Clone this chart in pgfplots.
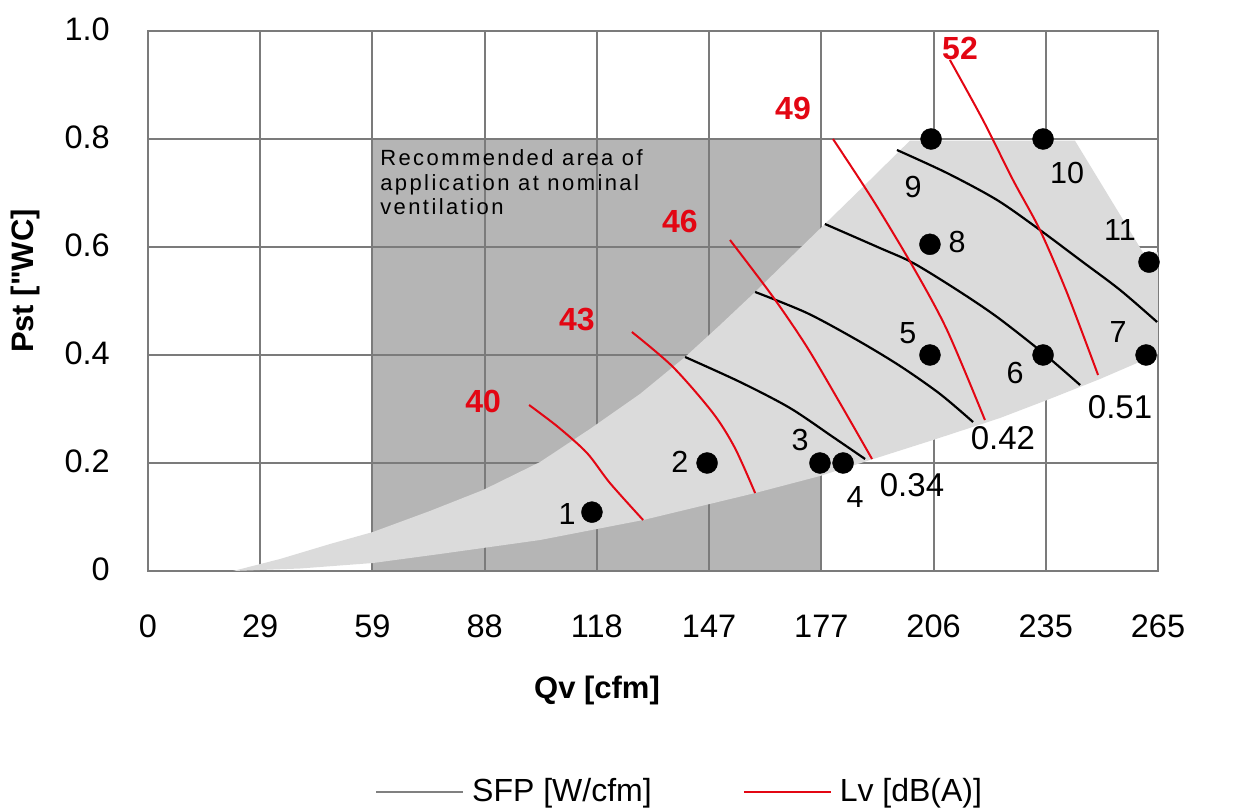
\documentclass[border=0pt]{standalone}
\usepackage{fontspec}
\setmainfont{Liberation Sans}
\newfontfamily\recfont{Liberation Sans}[LetterSpace=11]
\newfontfamily\labfont{Liberation Sans}
\usepackage{pgfplots}
\pgfplotsset{compat=1.18}
\definecolor{gridgray}{RGB}{123,123,123}
\definecolor{darkrect}{RGB}{181,181,181}
\definecolor{lightreg}{RGB}{219,219,219}
\definecolor{redline}{RGB}{227,6,19}
\definecolor{leggray}{RGB}{128,128,128}
\begin{document}
\begin{tikzpicture}
\begin{axis}[
  set layers,
  at={(0,0)}, anchor=south west,
  scale only axis, width=1010bp, height=540bp,
  xmin=0, xmax=450, ymin=0, ymax=1,
  xtick={0,50,100,150,200,250,300,350,400,450},
  xticklabels={0,29,59,88,118,147,177,206,235,265},
  ytick={0,0.2,0.4,0.6,0.8,1},
  yticklabels={0\hspace{7bp},0.2\hspace{-8bp},0.4,0.6,0.8,1.0},
  /pgf/number format/assume math mode=true,
  grid=major,
  major grid style={draw=gridgray, line width=2bp},
  axis line style={draw=gridgray, line width=2bp},
  major tick length=0pt,
  tick label style={font=\fontsize{32.5bp}{38bp}\selectfont, inner sep=0pt},
  xticklabel style={anchor=north, yshift=-44bp},
  yticklabel style={anchor=east, xshift=-38bp, yshift=2bp},
  xlabel={Qv [cfm]}, ylabel={Pst ["WC]},
  label style={font=\labfont\bfseries\fontsize{31bp}{36bp}\selectfont},
  xlabel style={at={(axis description cs:0.4446,-0.2204)}, anchor=center},
  ylabel style={at={(axis description cs:-0.1218,0.537)}, anchor=center},
  legend columns=2,
  legend style={draw=none, fill=none, at={(0.2248,-0.383)}, anchor=north west,
    font=\fontsize{32bp}{38bp}\selectfont, inner sep=0pt,
    nodes={inner sep=0pt},
    /tikz/every odd column/.append style={column sep=8bp},
    /tikz/every even column/.append style={column sep=91bp}},
  legend image code/.code={\draw[#1] (0bp,-2bp) -- (87bp,-2bp);},
]
\addlegendimage{draw=leggray, line width=2bp}
\addlegendentry{SFP [W/cfm]}
\addlegendimage{draw=redline, line width=2bp}
\addlegendentry{Lv [dB(A)]}

% recommended area
\addplot[on layer=axis background, fill=darkrect, draw=none, forget plot]
  coordinates {(100,0) (300,0) (300,0.8) (100,0.8)} --cycle;

% working region
\addplot[fill=lightreg, draw=none, forget plot] coordinates {
(37.9,0) (58.8,0.0222) (81.1,0.050) (100.2,0.0722) (125.6,0.1111) (149.3,0.150)
(174.7,0.2019) (196.9,0.2630) (219.2,0.3278) (239.3,0.3963) (254.9,0.4556)
(270.5,0.5167) (286.0,0.5796) (301.6,0.6426) (321.7,0.7241) (339.5,0.797)
(413.0,0.797) (443.3,0.59) (452,0.59) (452,0.405)
(450.0,0.4019) (424.2,0.3556) (400.6,0.3167) (379.6,0.2833) (349.8,0.2426)
(320.4,0.2037) (299.4,0.1759) (270.5,0.1444) (220.6,0.0944) (174.7,0.0574)
(130.1,0.0315) (100.2,0.0148) (67.7,0.0046)
} --cycle;

\node[anchor=north west, align=left, inner sep=0pt,
  font=\recfont\fontsize{22bp}{24.5bp}\selectfont]
  at (axis cs:103.4,0.78) {Recommended area of\\application at nominal\\ventilation};

% SFP curves
\addplot[black, line width=2.2bp, smooth, forget plot] coordinates {
(239.3,0.3963) (263.8,0.35) (286.0,0.3019) (305.2,0.2481) (319.5,0.2074)};
\addplot[black, line width=2.2bp, smooth, forget plot] coordinates {
(270.5,0.5167) (293.6,0.4778) (315.9,0.4278) (335.1,0.3796) (352.9,0.3278) (367.6,0.2759)};
\addplot[black, line width=2.2bp, smooth, forget plot] coordinates {
(301.6,0.6426) (326.1,0.5981) (340.9,0.5704) (360.5,0.5204) (378.3,0.4704) (398.8,0.4037) (415.3,0.3444)};
\addplot[black, line width=2.2bp, smooth, forget plot] coordinates {
(333.7,0.7796) (356.0,0.7370) (378.3,0.6870) (397.4,0.6315) (415.3,0.5759) (433.1,0.5204) (449.6,0.4611)};

% Lv curves
\addplot[redline, line width=2bp, smooth, forget plot] coordinates {
(169.8,0.3074) (182.7,0.2667) (195.6,0.2185) (205.8,0.1630) (220.6,0.0944)};
\addplot[redline, line width=2bp, smooth, forget plot] coordinates {
(215.6,0.4426) (233.9,0.3778) (251.7,0.2926) (261.5,0.2278) (270.5,0.1444)};
\addplot[redline, line width=2bp, smooth, forget plot] coordinates {
(259.3,0.6130) (278.5,0.5074) (293.6,0.4148) (308.3,0.3111) (322.6,0.2074)};
\addplot[redline, line width=2bp, smooth, forget plot] coordinates {
(305.2,0.8) (323.0,0.6870) (340.9,0.5630) (356.0,0.4463) (372.9,0.2796)};
\addplot[redline, line width=2bp, smooth, forget plot] coordinates {
(357.3,0.9463) (372.0,0.8352) (385.4,0.7241) (397.4,0.6315) (409.5,0.5148) (423.3,0.3630)};

% operating points
\addplot[only marks, mark=*, mark size=10.5bp, black, forget plot] coordinates {
(197.8,0.109) (249.1,0.2) (299.4,0.2) (309.7,0.2) (348.4,0.4) (398.8,0.4)
(444.7,0.4) (348.4,0.605) (348.9,0.8) (398.8,0.8) (446.0,0.572)};

% point labels
\begin{scope}[every node/.style={font=\fontsize{30.5bp}{36bp}\selectfont, inner sep=0pt}]
\node at (axis cs:186.7,0.1056) {1};
\node at (axis cs:237.0,0.2019) {2};
\node at (axis cs:290.5,0.2426) {3};
\node at (axis cs:315.0,0.1370) {4};
\node at (axis cs:338.6,0.4407) {5};
\node at (axis cs:386.3,0.3667) {6};
\node at (axis cs:432.2,0.4426) {7};
\node at (axis cs:360.5,0.6093) {8};
\node at (axis cs:340.9,0.7111) {9};
\node at (axis cs:409.5,0.7370) {10};
\node at (axis cs:433.1,0.6315) {11};
\end{scope}
\begin{scope}[every node/.style={font=\fontsize{33bp}{38bp}\selectfont, inner sep=0pt}]
\node at (axis cs:340.4,0.1593) {0.34};
\node at (axis cs:380.9,0.2463) {0.42};
\node at (axis cs:433.1,0.3037) {0.51};
\node at (axis cs:468.7,0.4222) {0.59};
\end{scope}
\begin{scope}[every node/.style={font=\bfseries\fontsize{32bp}{38bp}\selectfont, inner sep=0pt, text=redline}]
\node at (axis cs:149.3,0.3148) {40};
\node at (axis cs:191.1,0.4648) {43};
\node at (axis cs:237.0,0.6481) {46};
\node at (axis cs:287.4,0.8574) {49};
\node at (axis cs:361.8,0.9685) {52};
\end{scope}
\end{axis}
\pgfresetboundingbox
\useasboundingbox (-148bp,-240bp) rectangle (1095bp,571bp);
\end{tikzpicture}
\end{document}
